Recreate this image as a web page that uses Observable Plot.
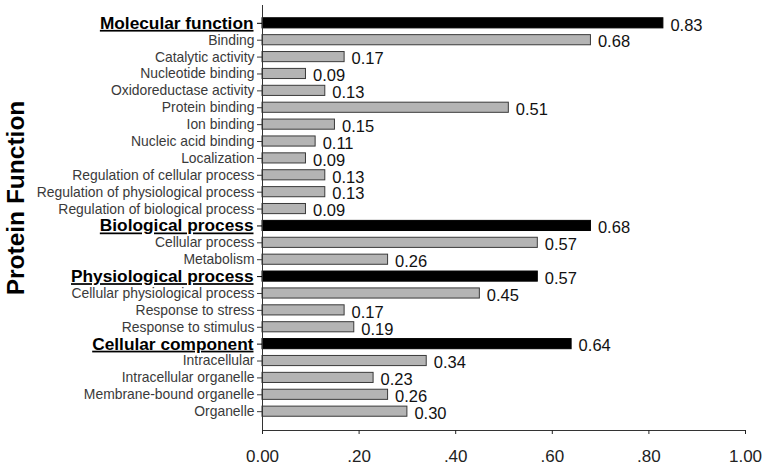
<!DOCTYPE html>
<html>
<head>
<meta charset="utf-8">
<script src="https://cdn.jsdelivr.net/npm/d3@7"></script>
<script src="https://cdn.jsdelivr.net/npm/@observablehq/plot@0.6"></script>
<style>
  html, body { margin: 0; padding: 0; background: #fff; }
  #chart svg { font-family: "Liberation Sans", Arial, sans-serif; }
</style>
</head>
<body>
<div id="chart"></div>
<script>
const categories = [
  "Molecular function", "Binding", "Catalytic activity", "Nucleotide binding",
  "Oxidoreductase activity", "Protein binding", "Ion binding", "Nucleic acid binding",
  "Localization", "Regulation of cellular process", "Regulation of physiological process",
  "Regulation of biological process", "Biological process", "Cellular process", "Metabolism",
  "Physiological process", "Cellular physiological process", "Response to stress",
  "Response to stimulus", "Cellular component", "Intracellular", "Intracellular organelle",
  "Membrane-bound organelle", "Organelle"
];
const values = [
  0.83, 0.68, 0.17, 0.09,
  0.13, 0.51, 0.15, 0.11,
  0.09, 0.13, 0.13,
  0.09, 0.68, 0.57, 0.26,
  0.57, 0.45, 0.17,
  0.19, 0.64, 0.34, 0.23,
  0.26, 0.30
];
const headers = ["Molecular function", "Biological process", "Physiological process", "Cellular component"];
const xTicks = [0, 0.2, 0.4, 0.6, 0.8, 1.0];
const xTickLabels = ["0.00", ".20", ".40", ".60", ".80", "1.00"];
const axisTitle = "Protein Function";

const data = categories.map((name, i) => ({name, value: values[i], header: headers.includes(name)}));
const subs = categories.filter(c => !headers.includes(c));

const chart = Plot.plot({
  width: 765,
  height: 469,
  marginLeft: 262,
  marginRight: 20,
  marginTop: 5,
  marginBottom: 39,
  x: {domain: [0, 1]},
  y: {domain: categories, padding: 0.4, round: false, insetTop: 6, insetBottom: 7, label: null},
  marks: [
    Plot.barX(data, {
      x: "value", y: "name",
      fill: d => d.header ? "#000000" : "#b4b4b4",
      stroke: d => d.header ? "#000000" : "#3a3a3a",
      strokeWidth: 1
    }),
    Plot.text(data, {
      x: "value", y: "name",
      text: d => d.value.toFixed(2),
      textAnchor: "start", dx: 7, dy: 2,
      fontSize: 16.5, fill: "#111"
    }),
    Plot.frame({anchor: "left", stroke: "#333"}),
    Plot.frame({anchor: "bottom", stroke: "#333"}),
    Plot.axisX({
      ticks: xTicks,
      tickFormat: d => xTickLabels[xTicks.indexOf(d)],
      tickSize: 4, tickPadding: 15, fontSize: 17, color: "#222", label: null
    }),
    Plot.axisY({
      ticks: subs, tickSize: 5, tickPadding: 3, fontSize: 13.9, color: "#3a3a3a",
      label: axisTitle, labelAnchor: "center", labelOffset: 256
    }),
    Plot.axisY({
      ticks: headers, tickSize: 5, tickPadding: 4, fontSize: 17.3, fontWeight: "bold",
      color: "#000", label: null
    })
  ]
});

d3.select(chart).selectAll("text").each(function() {
  const t = d3.select(this);
  const s = this.textContent;
  if (headers.includes(s)) t.attr("text-decoration", "underline");
  if (s === axisTitle) {
    t.attr("font-size", 24.5).attr("font-weight", "bold").attr("fill", "#000").attr("dx", 20);
  }
});

document.getElementById("chart").appendChild(chart);
</script>
</body>
</html>
